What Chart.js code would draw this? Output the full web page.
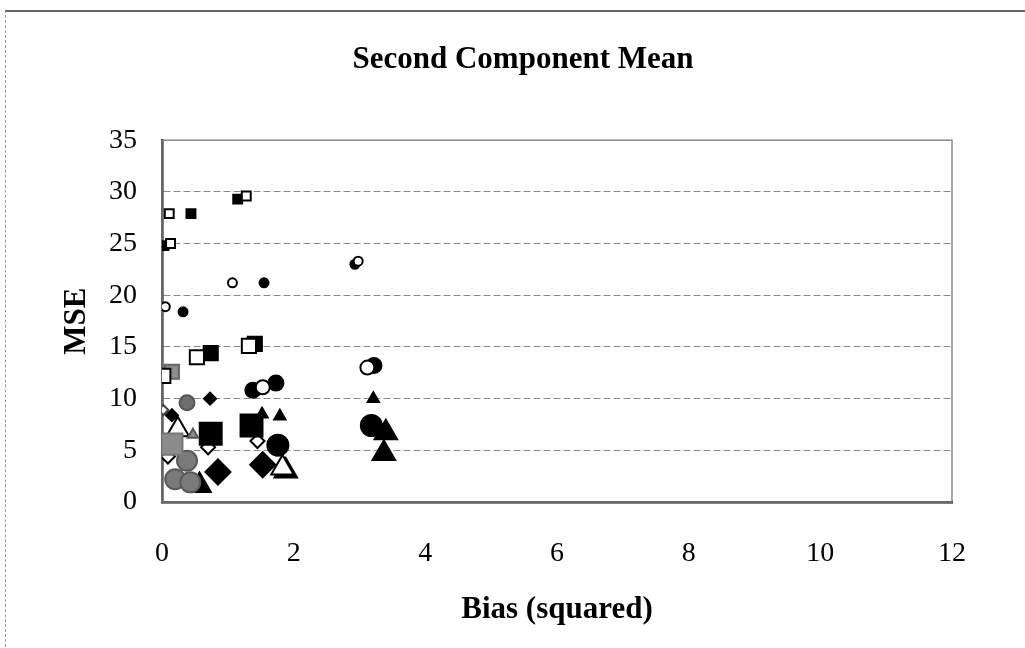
<!DOCTYPE html>
<html>
<head>
<meta charset="utf-8">
<script src="https://cdn.jsdelivr.net/npm/chart.js@4/dist/chart.umd.min.js"></script>
<style>
  body { margin: 0; background: #fff; }
  #wrap { position: relative; width: 1025px; height: 648px; }
  #frame { position: absolute; left: 5px; top: 10px; width: 1030px; height: 700px;
           border-top: 2px solid #666; border-left: 1px dashed #999; }
  canvas { position: absolute; left: 0; top: 0; }
</style>
</head>
<body>
<div id="wrap">
  <div id="frame"></div>
  <canvas id="grafico" width="1025" height="648"></canvas>
</div>
<script>
/* values: [bias squared, MSE] */
var quadPequenoAberto   = [[0.11, 27.9], [1.28, 29.6], [0.13, 25.0]];
var quadPequenoCheio    = [[0.44, 27.9], [1.15, 29.3], [0.03, 24.8]];
var circPequenoAberto   = [[0.05, 18.9], [1.07, 21.2], [2.98, 23.3]];
var circPequenoCheio    = [[0.32, 18.4], [1.55, 21.2], [2.93, 23.0]];
var quadMedioAberto     = [[0.02, 12.2], [0.53, 14.0], [1.32, 15.1]];
var quadMedioCheio      = [[0.74, 14.4], [1.41, 15.3]];
var quadMedioCinza      = [[0.15, 12.6]];
var circMedioAberto     = [[1.53, 11.1], [3.12, 13.0]];
var circMedioCheio      = [[1.38, 10.8], [1.73, 11.5], [3.22, 13.2]];
var circMedioCinza      = [[0.38, 9.6]];
var losPequenoAberto    = [[0.02, 8.9]];
var losPequenoCheio     = [[0.15, 8.4], [0.73, 10.0]];
var triPequenoCheio     = [[1.52, 8.5], [1.79, 8.3], [3.21, 10.0]];
var triPequenoCinza     = [[0.47, 6.5]];
var quadGrandeCinza     = [[0.15, 5.6]];
var quadGrandeCheio     = [[0.74, 6.6], [1.36, 7.4]];
var circGrandeCheio     = [[1.76, 5.5], [3.18, 7.4]];
var losGrandeCheio      = [[0.85, 2.9], [1.53, 3.6]];
var losMedioAberto      = [[0.70, 5.3], [1.45, 5.9], [0.09, 4.4]];
var circGrandeCinza     = [[0.38, 4.0], [0.20, 2.2], [0.43, 1.9]];
var triGrandeCheio      = [[3.37, 4.7], [1.88, 3.0], [0.57, 1.6], [3.40, 6.7]];
var triGrandeAberto     = [[0.24, 7.0], [1.83, 3.3]];

var ticksX = [0, 2, 4, 6, 8, 10, 12];
var ticksY = [0, 5, 10, 15, 20, 25, 30, 35];

function pontos(lista) {
  var saida = [];
  for (var i = 0; i < lista.length; i++) {
    saida.push({ x: lista[i][0], y: lista[i][1] });
  }
  return saida;
}

var CHEIO = "#000000";
var CINZA = "#8c8c8c";
var BRANCO = "#ffffff";

function serie(lista, forma, raio, preenchimento, borda) {
  return {
    data: pontos(lista),
    pointStyle: forma,
    pointRadius: raio,
    pointHoverRadius: raio,
    pointBackgroundColor: preenchimento,
    pointBorderColor: borda,
    pointBorderWidth: 2,
    showLine: false
  };
}

var conjuntos = [
  serie(quadPequenoAberto, "rect", 6.3, BRANCO, CHEIO),
  serie(quadPequenoCheio, "rect", 6.3, CHEIO, CHEIO),
  serie(circPequenoAberto, "circle", 4.5, BRANCO, CHEIO),
  serie(circPequenoCheio, "circle", 4.5, CHEIO, CHEIO),
  serie(quadMedioAberto, "rect", 10, BRANCO, CHEIO),
  serie(quadMedioCheio, "rect", 10, CHEIO, CHEIO),
  serie(quadMedioCinza, "rect", 10, CINZA, "#666"),
  serie(circMedioAberto, "circle", 7, BRANCO, CHEIO),
  serie(circMedioCheio, "circle", 7.5, CHEIO, CHEIO),
  serie(circMedioCinza, "circle", 7.5, "#6e6e6e", "#555"),
  serie(losPequenoAberto, "rectRot", 5, BRANCO, "#444"),
  serie(losPequenoCheio, "rectRot", 6, CHEIO, CHEIO),
  serie(triPequenoCheio, "triangle", 6.5, CHEIO, CHEIO),
  serie(triPequenoCinza, "triangle", 6, CINZA, "#555"),
  serie(quadGrandeCinza, "rect", 15, CINZA, "#777"),
  serie(quadGrandeCheio, "rect", 15.5, CHEIO, CHEIO),
  serie(circGrandeCheio, "circle", 10.5, CHEIO, CHEIO),
  serie(losGrandeCheio, "rectRot", 12.5, CHEIO, CHEIO),
  serie(triGrandeAberto, "triangle", 13, BRANCO, CHEIO),
  serie(losMedioAberto, "rectRot", 7, BRANCO, CHEIO),
  serie(circGrandeCinza, "circle", 10, "#7a7a7a", "#5a5a5a"),
  serie(triGrandeCheio, "triangle", 13, CHEIO, CHEIO)
];

// borda cinza em volta da area do grafico
var molduraArea = {
  id: "molduraArea",
  beforeDatasetsDraw: function (chart) {
    var a = chart.chartArea;
    var ctx = chart.ctx;
    ctx.save();
    ctx.strokeStyle = "#8a8a8a";
    ctx.lineWidth = 1.5;
    ctx.strokeRect(a.left, a.top, a.right - a.left, a.bottom - a.top);
    ctx.restore();
  }
};

var fonteSerif = "'Liberation Serif', 'Times New Roman', serif";

new Chart(document.getElementById("grafico").getContext("2d"), {
  type: "scatter",
  data: { datasets: conjuntos },
  plugins: [molduraArea],
  options: {
    responsive: false,
    animation: false,
    layout: { padding: { left: 21, right: 0, top: 0, bottom: 0 } },
    plugins: {
      legend: { display: false },
      tooltip: { enabled: false },
      title: {
        display: true,
        text: "Second Component Mean",
        color: "#000",
        font: { family: fonteSerif, size: 31, weight: "bold" },
        padding: { top: 41, bottom: 62 }
      }
    },
    scales: {
      x: {
        type: "linear",
        min: ticksX[0],
        max: ticksX[ticksX.length - 1],
        afterBuildTicks: function (escala) {
          escala.ticks = ticksX.map(function (v) { return { value: v }; });
        },
        afterFit: function (escala) {
          escala.height = 146;
          escala.paddingRight = 73;
        },
        grid: { display: false, drawTicks: false },
        border: { display: true, color: "#000", width: 2.5 },
        ticks: { color: "#000", padding: 35, font: { family: fonteSerif, size: 28 } },
        title: {
          display: true,
          text: "Bias (squared)",
          color: "#000",
          font: { family: fonteSerif, size: 31, weight: "bold" },
          padding: { top: 0, bottom: 19 }
        }
      },
      y: {
        type: "linear",
        min: ticksY[0],
        max: ticksY[ticksY.length - 1],
        afterBuildTicks: function (escala) {
          escala.ticks = ticksY.map(function (v) { return { value: v }; });
        },
        afterFit: function (escala) { escala.width = 141; },
        grid: { color: "#8a8a8a", lineWidth: 1, drawTicks: false },
        border: { display: true, color: "#000", width: 2.5, dash: [7, 3] },
        ticks: { color: "#000", padding: 25, font: { family: fonteSerif, size: 28 } },
        title: {
          display: true,
          text: "MSE",
          color: "#000",
          font: { family: fonteSerif, size: 31, weight: "bold" },
          padding: { top: 37, bottom: 0 }
        }
      }
    }
  }
});
</script>
</body>
</html>
